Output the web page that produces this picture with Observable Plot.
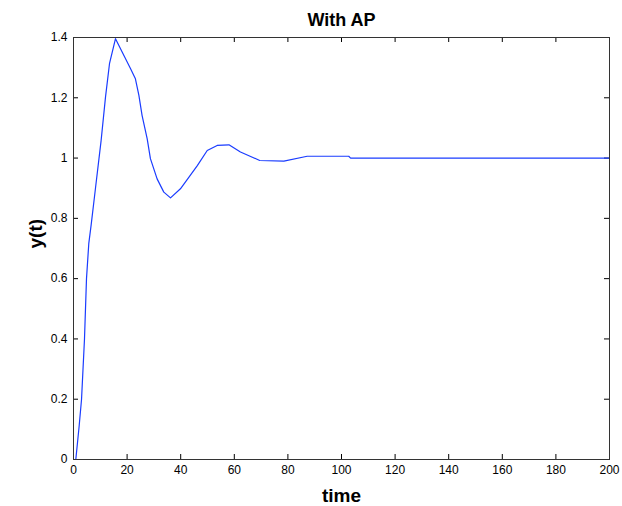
<!DOCTYPE html>
<html>
<head>
<meta charset="utf-8">
<script src="https://cdn.jsdelivr.net/npm/d3@7"></script>
<script src="https://cdn.jsdelivr.net/npm/@observablehq/plot@0.6"></script>
<style>
  html, body { margin: 0; padding: 0; background: #fff; }
  svg { display: block; }
</style>
</head>
<body>
<div id="chart"></div>
<script>
const title = "With AP";
const xLabel = "time";
const yLabel = "y(t)";
const timeValues = [0.5, 0.86, 2.13, 3, 4.1, 4.85, 5.7, 6.6, 8.2, 10.3, 11.94, 13.43, 15.67, 18.2, 21.3, 23.1, 24.4, 25.6, 27.5, 28.7, 31.2, 33.7, 36.2, 39.9, 46.2, 49.9, 53.6, 58, 62.3, 69.5, 78.5, 87.2, 102.7, 103.4, 200];
const yValues = [0, 0, 0.113, 0.2, 0.4, 0.6, 0.716, 0.779, 0.9, 1.058, 1.202, 1.313, 1.396, 1.351, 1.296, 1.263, 1.208, 1.141, 1.064, 0.998, 0.931, 0.887, 0.868, 0.898, 0.975, 1.025, 1.042, 1.044, 1.02, 0.992, 0.99, 1.006, 1.006, 1.0, 1.0];
const xTicks = [0, 20, 40, 60, 80, 100, 120, 140, 160, 180, 200];
const yTicks = [0, 0.2, 0.4, 0.6, 0.8, 1, 1.2, 1.4];

const data = timeValues.map((t, i) => ({t, y: yValues[i]}));

const W = 622, H = 506;
const mL = 73, mR = 13, mT = 37, mB = 47;
const plotW = W - mL - mR, plotH = H - mT - mB;
const tickLen = 5;
const fmt = d => String(+d.toFixed(1));
const font = "Liberation Sans, Arial, Helvetica, sans-serif";

const chart = Plot.plot({
  width: W,
  height: H,
  marginLeft: mL,
  marginRight: mR,
  marginTop: mT,
  marginBottom: mB,
  style: {fontFamily: font, fontSize: "12px", color: "#000", background: "#fff"},
  x: {domain: [0, 200], ticks: xTicks, tickFormat: fmt},
  y: {domain: [0, 1.4], ticks: yTicks, tickFormat: fmt},
  marks: [
    Plot.axisX({ticks: xTicks, tickSize: 0, tickPadding: 6, tickFormat: fmt, label: null, fontSize: 12}),
    Plot.axisY({ticks: yTicks, tickSize: 0, tickPadding: 6, tickFormat: fmt, label: null, fontSize: 12}),
    Plot.tickX(xTicks, {x: d => d, insetTop: plotH - tickLen, stroke: "#000"}),
    Plot.tickX(xTicks, {x: d => d, insetBottom: plotH - tickLen, stroke: "#000"}),
    Plot.tickY(yTicks, {y: d => d, insetRight: plotW - tickLen, stroke: "#000"}),
    Plot.tickY(yTicks, {y: d => d, insetLeft: plotW - tickLen, stroke: "#000"}),
    Plot.line(data, {x: "t", y: "y", stroke: "#1a3cff", strokeWidth: 1.2}),
    Plot.frame({stroke: "#333"}),
    Plot.text([title], {frameAnchor: "top", dy: -12, fontWeight: "bold", fontSize: 18, fill: "#000", lineAnchor: "bottom"}),
    Plot.text([xLabel], {frameAnchor: "bottom", dy: 42, fontWeight: "bold", fontSize: 19, fill: "#000", lineAnchor: "bottom"}),
    Plot.text([yLabel], {frameAnchor: "left", dx: -38, rotate: -90, fontWeight: "bold", fontSize: 19, fill: "#000"})
  ]
});
document.getElementById("chart").appendChild(chart);
</script>
</body>
</html>
